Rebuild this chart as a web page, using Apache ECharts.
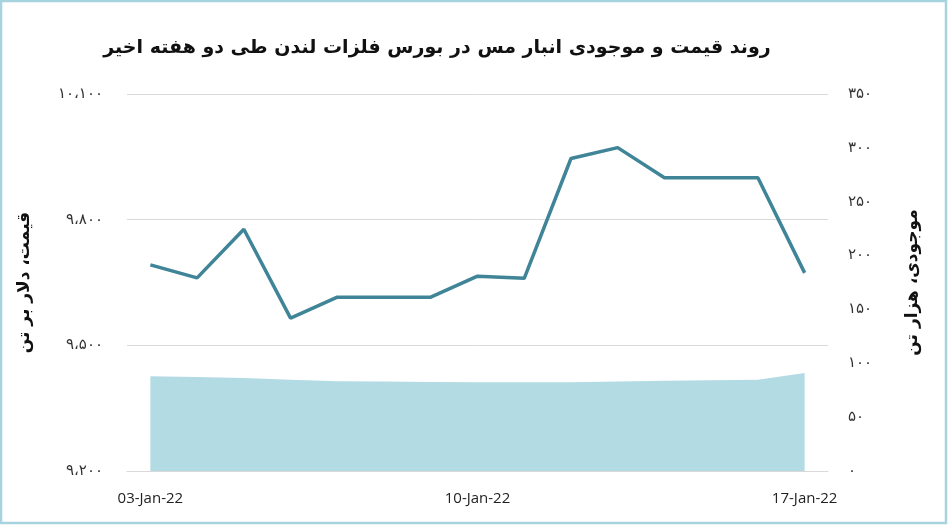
<!DOCTYPE html>
<html>
<head>
<meta charset="utf-8">
<script src="https://cdn.jsdelivr.net/npm/echarts@6/dist/echarts.min.js"></script>
<style>
  html, body { margin: 0; padding: 0; background: #fff; }
  #main { width: 948px; height: 526px; }
</style>
</head>
<body>
<div id="main"></div>
<script>
// روند قیمت و موجودی مس در بورس فلزات لندن

var days = ['03-Jan-22', '04-Jan-22', '05-Jan-22', '06-Jan-22', '07-Jan-22', '08-Jan-22', '09-Jan-22',
    '10-Jan-22', '11-Jan-22', '12-Jan-22', '13-Jan-22', '14-Jan-22', '15-Jan-22', '16-Jan-22', '17-Jan-22'];

// قیمت، دلار بر تن
var priceData = [9692, 9661, 9777, 9565, 9615, 9615, 9615, 9665, 9660, 9946, 9972, 9900, 9900, 9900, 9673];

// موجودی، هزار تن
var stockData = [87.9, 87.3, 86.4, 84.8, 83.3, 83.0, 82.7, 82.3, 82.3, 82.3, 83.0, 83.9, 84.2, 84.8, 91.0];

var priceTicks = { min: 9200, max: 10100, interval: 300 };
var stockTicks = { min: 0, max: 350, interval: 50 };

var faDigits = ['۰', '۱', '۲', '۳', '۴', '۵', '۶', '۷', '۸', '۹'];
function toFa(n) {
    var s = String(n).replace(/\B(?=(\d{3})+(?!\d))/g, '،');
    return s.replace(/\d/g, function (d) { return faDigits[+d]; });
}

var chart = echarts.init(document.getElementById('main'));

var option = {
    backgroundColor: '#fff',
    animation: false,
    title: {
        text: 'روند قیمت و موجودی انبار مس در بورس فلزات لندن طی دو هفته اخیر',
        left: 432,
        textAlign: 'center',
        top: 34,
        textStyle: {
            fontFamily: 'DejaVu Sans',
            fontWeight: 'bold',
            fontSize: 19,
            color: '#111'
        }
    },
    graphic: [{
        type: 'rect',
        shape: { x: 1, y: 1, width: 945, height: 522 },
        style: { fill: 'none', stroke: '#a6d3de', lineWidth: 2.5 },
        silent: true
    }],
    grid: {
        left: 127,
        right: 120,
        top: 94,
        bottom: 55
    },
    xAxis: {
        type: 'category',
        boundaryGap: true,
        data: days,
        axisLine: { lineStyle: { color: '#d9d9d9', width: 1 } },
        axisTick: { show: false },
        axisLabel: {
            interval: 6,
            margin: 20,
            fontFamily: 'Open Sans',
            fontSize: 15,
            color: '#222'
        }
    },
    yAxis: [{
        type: 'value',
        position: 'left',
        min: priceTicks.min,
        max: priceTicks.max,
        interval: priceTicks.interval,
        name: 'قیمت، دلار بر تن',
        nameLocation: 'middle',
        nameRotate: 90,
        nameGap: 94,
        nameTextStyle: {
            fontFamily: 'DejaVu Sans',
            fontWeight: 'bold',
            fontSize: 17,
            color: '#111'
        },
        axisLine: { show: false },
        axisTick: { show: false },
        axisLabel: {
            margin: 24,
            fontFamily: 'DejaVu Sans',
            fontSize: 15,
            color: '#333',
            formatter: function (v) { return toFa(v); }
        },
        splitLine: { lineStyle: { color: '#d9d9d9', width: 1 } }
    }, {
        type: 'value',
        position: 'right',
        min: stockTicks.min,
        max: stockTicks.max,
        interval: stockTicks.interval,
        name: 'موجودی، هزار تن',
        nameLocation: 'middle',
        nameRotate: 90,
        nameGap: 76,
        nameTextStyle: {
            fontFamily: 'DejaVu Sans',
            fontWeight: 'bold',
            fontSize: 17,
            color: '#111'
        },
        axisLine: { show: false },
        axisTick: { show: false },
        axisLabel: {
            margin: 20,
            fontFamily: 'DejaVu Sans',
            fontSize: 15,
            color: '#333',
            formatter: function (v) { return toFa(v); }
        },
        splitLine: { show: false }
    }],
    series: [{
        name: 'موجودی',
        type: 'line',
        yAxisIndex: 1,
        data: stockData,
        symbol: 'none',
        lineStyle: { width: 0 },
        areaStyle: { color: '#b3dbe4', opacity: 1 },
        z: 1
    }, {
        name: 'قیمت',
        type: 'line',
        yAxisIndex: 0,
        data: priceData,
        symbol: 'none',
        lineStyle: { color: '#3f8597', width: 3.5 },
        z: 3
    }]
};

chart.setOption(option);
</script>
</body>
</html>
